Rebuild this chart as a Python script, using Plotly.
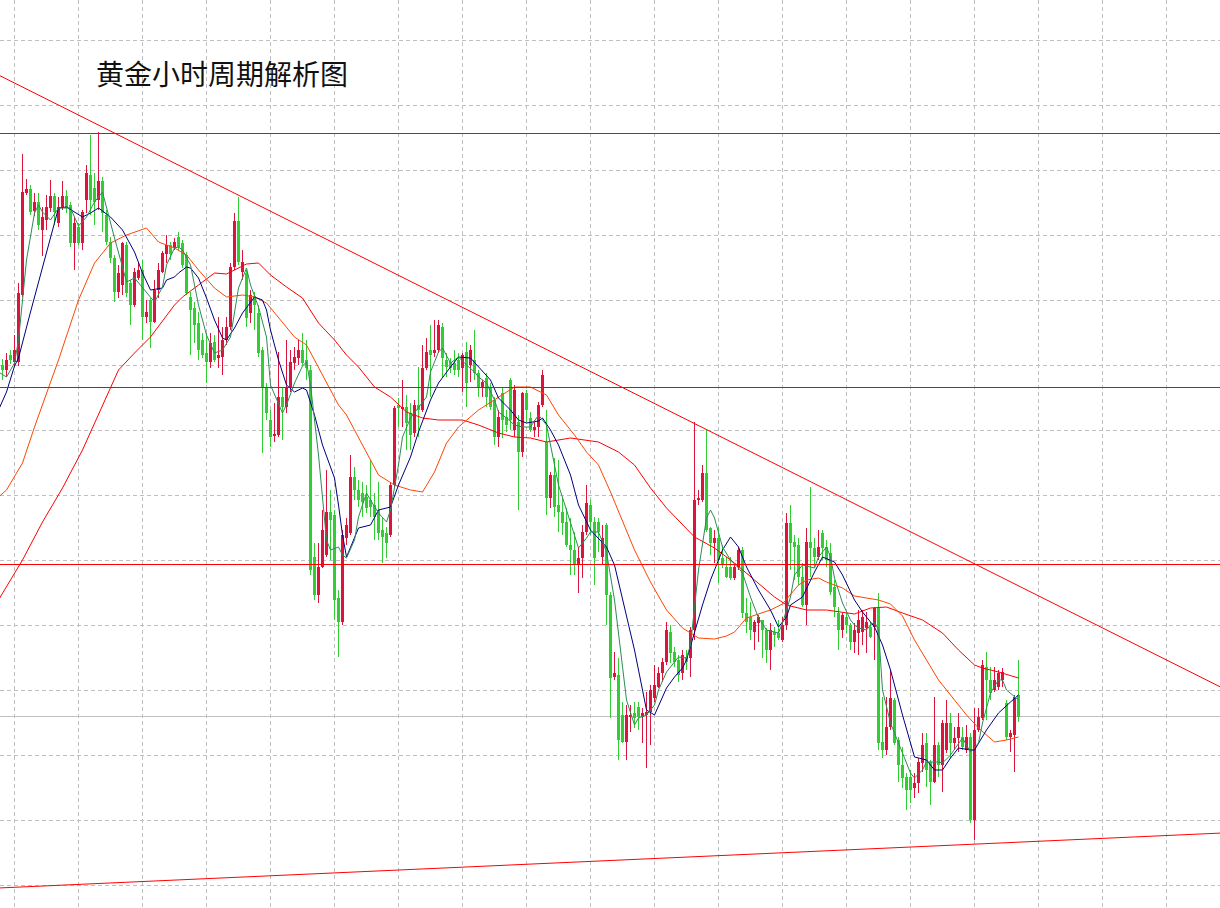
import plotly.graph_objects as go

title_text = "黄金小时周期解析图"

# hourly OHLC (oldest -> newest)
opens = [1635,1630,1645,1638,1638,1705,1807,1811,1789,1798,
 1770,1780,1792,1804,1777,1793,1804,1795,1757,1773,
 1757,1800,1825,1812,1800,1819,1785,1758,1742,1708,
 1715,1755,1717,1695,1722,1730,1683,1700,1678,1710,
 1728,1746,1755,1752,1763,1757,1745,1703,1692,1677,
 1660,1647,1638,1658,1642,1643,1660,1673,1733,1779,
 1728,1727,1687,1704,1687,1650,1612,1580,1564,1565,
 1603,1593,1612,1637,1642,1650,1640,1630,1443,1405,
 1433,1445,1488,1485,1402,1378,1462,1467,1523,1510,
 1507,1503,1500,1495,1490,1470,1467,1465,1515,1595,
 1591,1593,1587,1567,1595,1590,1632,1650,1647,1650,
 1673,1640,1638,1637,1640,1632,1648,1635,1640,1627,
 1613,1622,1613,1600,1563,1607,1583,1620,1570,1578,
 1548,1607,1582,1570,1573,1595,1558,1502,1525,1495,
 1488,1478,1455,1450,1435,1442,1468,1495,1478,1478,
 1443,1475,1405,1323,1325,1285,1258,1283,1287,1293,
 1283,1285,1288,1302,1313,1327,1338,1368,1348,1340,
 1327,1343,1342,1370,1500,1500,1527,1472,1457,1462,
 1442,1433,1433,1422,1433,1450,1387,1383,1368,1377,
 1380,1370,1350,1368,1367,1360,1375,1477,1458,1455,
 1423,1395,1458,1452,1443,1467,1453,1447,1413,1387,
 1370,1383,1375,1358,1367,1368,1372,1373,1373,1392,
 1258,1250,1273,1300,1260,1235,1223,1223,1212,1217,
 1237,1257,1238,1218,1255,1235,1250,1277,1257,1262,
 1263,1250,1263,1180,1270,1282,1333,1320,1310,1313,
 1320,1297,1263,1265,1305]

highs = [1641,1647,1650,1665,1717,1846,1821,1815,1807,1807,
 1793,1805,1820,1807,1803,1819,1810,1798,1783,1777,
 1790,1835,1865,1827,1868,1823,1790,1763,1745,1735,
 1758,1758,1720,1732,1738,1740,1700,1702,1720,1737,
 1749,1765,1758,1762,1768,1760,1748,1708,1698,1688,
 1667,1667,1667,1665,1683,1673,1683,1737,1787,1803,
 1750,1730,1710,1708,1695,1653,1617,1590,1597,1648,
 1613,1660,1650,1653,1660,1667,1660,1635,1457,1457,
 1490,1530,1510,1490,1410,1470,1482,1545,1533,1520,
 1518,1515,1540,1507,1518,1482,1473,1517,1594,1602,
 1620,1605,1597,1600,1633,1655,1662,1675,1680,1680,
 1677,1647,1642,1650,1647,1647,1658,1655,1670,1630,
 1620,1627,1617,1603,1590,1612,1590,1622,1615,1585,
 1608,1610,1588,1580,1598,1630,1590,1528,1542,1540,
 1503,1492,1482,1468,1453,1475,1515,1500,1483,1482,
 1475,1477,1408,1348,1342,1298,1295,1295,1298,1298,
 1292,1308,1315,1335,1333,1342,1378,1375,1353,1345,
 1350,1350,1373,1578,1510,1535,1570,1473,1470,1473,
 1455,1443,1443,1435,1453,1453,1402,1398,1380,1385,
 1380,1372,1377,1373,1380,1383,1487,1495,1465,1462,
 1437,1472,1513,1462,1470,1470,1460,1457,1420,1393,
 1387,1387,1377,1377,1390,1390,1388,1378,1393,1407,
 1303,1303,1330,1302,1263,1253,1227,1230,1227,1242,
 1267,1267,1240,1303,1258,1280,1300,1287,1273,1287,
 1273,1275,1267,1292,1292,1340,1348,1333,1333,1330,
 1332,1300,1270,1305,1340]

lows = [1620,1623,1636,1634,1634,1703,1805,1785,1784,1770,
 1744,1770,1788,1775,1773,1790,1787,1753,1730,1755,
 1750,1787,1785,1775,1790,1768,1755,1737,1698,1702,
 1705,1703,1675,1693,1720,1660,1677,1652,1677,1702,
 1727,1737,1740,1750,1750,1732,1705,1645,1657,1640,
 1642,1617,1632,1638,1632,1625,1655,1670,1730,1735,
 1720,1673,1677,1670,1643,1547,1580,1553,1558,1563,
 1560,1587,1608,1630,1635,1635,1620,1425,1400,1397,
 1432,1443,1440,1380,1343,1375,1455,1465,1500,1493,
 1483,1487,1483,1460,1460,1437,1442,1463,1513,1573,
 1573,1550,1550,1563,1563,1588,1630,1603,1643,1647,
 1623,1623,1627,1625,1623,1608,1593,1618,1620,1603,
 1603,1593,1590,1555,1553,1562,1568,1570,1563,1490,
 1543,1578,1568,1563,1563,1593,1485,1492,1483,1468,
 1465,1453,1425,1425,1407,1422,1465,1465,1415,1448,
 1435,1375,1282,1320,1240,1257,1240,1268,1272,1270,
 1257,1232,1255,1298,1312,1318,1335,1337,1333,1318,
 1320,1330,1323,1360,1495,1498,1468,1445,1437,1417,
 1432,1422,1420,1420,1430,1382,1367,1360,1350,1358,
 1342,1337,1330,1353,1360,1358,1370,1430,1420,1415,
 1393,1375,1423,1433,1440,1440,1433,1405,1383,1350,
 1362,1367,1350,1347,1345,1355,1347,1362,1340,1250,
 1242,1245,1270,1255,1218,1212,1190,1197,1202,1207,
 1228,1213,1195,1217,1223,1208,1247,1242,1250,1248,
 1250,1247,1177,1160,1268,1280,1280,1300,1308,1310,
 1313,1260,1248,1228,1278]

closes = [1630,1640,1640,1650,1707,1808,1811,1788,1798,1775,
 1783,1793,1804,1788,1793,1804,1792,1757,1777,1757,
 1788,1827,1800,1798,1819,1787,1758,1742,1708,1727,
 1757,1707,1695,1728,1730,1683,1688,1678,1710,1730,
 1747,1755,1746,1758,1753,1735,1707,1690,1675,1650,
 1645,1638,1657,1640,1645,1660,1673,1733,1779,1738,
 1738,1682,1705,1695,1647,1612,1587,1563,1566,1603,
 1593,1612,1638,1643,1650,1637,1632,1430,1405,1433,
 1470,1488,1480,1400,1378,1465,1475,1523,1510,1500,
 1498,1492,1493,1483,1467,1463,1457,1515,1592,1592,
 1593,1577,1565,1595,1590,1632,1648,1645,1650,1675,
 1642,1633,1632,1630,1630,1645,1617,1650,1627,1613,
 1618,1603,1593,1563,1583,1580,1575,1580,1610,1548,
 1607,1590,1570,1573,1595,1625,1502,1525,1493,1488,
 1477,1455,1450,1435,1442,1468,1497,1478,1442,1468,
 1462,1405,1322,1327,1260,1258,1285,1285,1282,1283,
 1287,1288,1310,1315,1327,1338,1370,1347,1338,1325,
 1345,1338,1370,1500,1502,1527,1470,1457,1462,1440,
 1435,1423,1422,1433,1450,1387,1378,1370,1378,1383,
 1370,1350,1370,1365,1362,1375,1477,1457,1453,1423,
 1395,1458,1452,1443,1453,1452,1440,1408,1393,1370,
 1385,1375,1358,1370,1380,1383,1378,1363,1392,1257,
 1250,1273,1302,1257,1235,1222,1210,1210,1217,1238,
 1255,1230,1218,1255,1235,1277,1277,1257,1262,1273,
 1253,1263,1180,1270,1283,1335,1320,1307,1320,1327,
 1328,1263,1267,1303,1283]

# moving averages (bar index, price)
ma_fast_bars = [-1,1,3,4,6,8,9,10,12,14,17,19,21,23,25,26,28,30,31,33,36,38,40,41,43,44,45,47,49,51,53,55,57,59,61,62,64,66,67,70,71,73,75,76,77,79,81,82,84,85,86,88,89,91,92,94,96,97,99,100,102,104,106,107,109,110,112,113,114,116,118,119,121,123,124,126,128,130,132,134,136,137,139,141,142,144,146,147,149,151,153,154,156,158,159,161,163,164,166,168,169,171,172,174,176,177,178,180,182,184,185,187,189,191,194,195,197,198,200,203,204,206,207,208,210,212,213,214,216,217,218,219,220,222,224,225,227,228,230,231,234,235,237,239,240,242,244,245,247,249,250,251,253,254]
ma_fast_vals = [1628,1623,1637,1660,1740,1787,1795,1788,1780,1792,1792,1774,1783,1798,1808,1792,1762,1733,1718,1722,1708,1698,1713,1735,1752,1753,1750,1735,1695,1665,1647,1650,1663,1712,1732,1715,1693,1663,1615,1587,1595,1617,1634,1638,1615,1545,1460,1450,1453,1445,1442,1460,1483,1507,1500,1487,1478,1490,1535,1563,1582,1592,1603,1628,1648,1652,1637,1640,1643,1635,1628,1623,1617,1600,1588,1582,1575,1573,1573,1585,1575,1555,1515,1490,1478,1452,1462,1468,1468,1448,1400,1365,1300,1275,1282,1285,1295,1310,1328,1338,1343,1342,1355,1430,1482,1490,1482,1453,1440,1432,1427,1403,1382,1370,1367,1377,1403,1425,1435,1432,1443,1453,1443,1422,1397,1380,1375,1372,1370,1375,1378,1370,1310,1277,1258,1247,1227,1222,1230,1238,1238,1237,1245,1257,1262,1248,1257,1277,1307,1320,1320,1310,1303,1300]

ma_mid_bars = [-1,1,5,8,14,19,23,27,31,36,39,43,46,49,53,56,60,63,66,69,73,76,79,82,84,86,90,94,98,102,105,108,111,114,119,124,128,132,136,139,143,146,149,152,155,158,162,166,170,174,178,181,183,186,189,192,195,197,199,201,204,206,210,213,216,219,222,225,228,231,234,238,241,244,248,251,254]
ma_mid_vals = [1503,1510,1537,1573,1640,1700,1737,1757,1765,1772,1758,1752,1745,1730,1712,1703,1705,1703,1697,1682,1663,1655,1632,1610,1595,1585,1555,1525,1515,1510,1508,1528,1557,1573,1590,1603,1613,1613,1605,1585,1565,1548,1535,1508,1478,1450,1418,1390,1372,1362,1361,1364,1368,1382,1386,1390,1396,1405,1415,1420,1422,1418,1412,1404,1402,1400,1396,1384,1360,1340,1320,1300,1285,1272,1258,1260,1263]

ma_slow_bars = [-1,5,10,15,20,22,29,33,37,43,45,49,53,56,59,61,64,67,71,75,79,83,86,89,93,97,101,105,109,115,119,124,128,132,136,142,149,154,158,162,166,170,173,178,183,188,193,196,201,206,211,213,217,221,225,230,235,239,243,245,249,254]
ma_slow_vals = [1400,1440,1478,1512,1550,1568,1630,1647,1663,1695,1703,1715,1727,1726,1732,1736,1737,1725,1713,1702,1677,1660,1645,1633,1613,1603,1588,1582,1580,1580,1575,1567,1563,1562,1558,1562,1558,1548,1535,1512,1492,1475,1463,1452,1437,1420,1403,1395,1390,1390,1387,1386,1392,1393,1387,1380,1367,1350,1335,1332,1328,1322]

ma_navy_bars = [-1,1,3,4,7,10,13,14,16,18,20,22,24,27,30,33,35,37,40,41,43,44,46,47,49,51,53,55,56,58,60,63,65,66,67,69,71,73,75,76,78,80,83,84,85,86,89,92,94,97,99,102,104,107,109,112,114,117,119,122,124,127,129,131,134,135,137,139,142,144,147,149,151,153,156,158,161,163,166,168,170,171,175,177,180,182,184,186,189,192,194,196,197,200,203,205,208,210,213,215,218,220,222,225,228,231,233,235,237,239,242,243,246,249,252,254]
ma_navy_vals = [1590,1608,1634,1642,1688,1732,1775,1792,1793,1788,1783,1787,1792,1783,1770,1748,1727,1710,1712,1720,1723,1727,1733,1732,1722,1702,1680,1662,1660,1672,1687,1703,1700,1690,1670,1640,1615,1608,1612,1610,1585,1555,1522,1495,1465,1443,1472,1475,1490,1493,1515,1543,1568,1600,1617,1633,1643,1642,1633,1620,1602,1590,1580,1577,1579,1582,1570,1555,1525,1495,1470,1462,1453,1435,1383,1350,1290,1285,1312,1323,1332,1340,1395,1420,1450,1463,1453,1433,1410,1390,1373,1383,1395,1403,1428,1443,1438,1425,1400,1388,1373,1355,1330,1285,1243,1240,1230,1230,1242,1252,1250,1250,1270,1287,1298,1305]

red_levels = [1866.5, 1612.5, 1435.5]
gray_levels = [1283.5]
upper_trend_bars = [-1, 305]
upper_trend_prices = [1925, 1312]
lower_trend_bars = [-1, 305]
lower_trend_prices = [1112, 1167]

UP = "#DC143C"
DOWN = "#32CD32"

fig = go.Figure()

bars = list(range(len(opens)))
for is_up, col in ((True, UP), (False, DOWN)):
    wx, wy, bx, bbase, bh = [], [], [], [], []
    for i in bars:
        o, h, l, c = opens[i], highs[i], lows[i], closes[i]
        if (c >= o) != is_up:
            continue
        wx += [i, i, None]
        wy += [l, h, None]
        bx.append(i)
        bbase.append(min(o, c))
        bh.append(max(abs(c - o), 1.5))
    fig.add_trace(go.Scatter(x=wx, y=wy, mode="lines", line=dict(color=col, width=1),
                             hoverinfo="skip", connectgaps=False))
    fig.add_trace(go.Bar(x=bx, y=bh, base=bbase, width=0.75, marker=dict(color=col, line=dict(width=0)),
                         hoverinfo="skip"))

for bx_, vals, col in ((ma_slow_bars, ma_slow_vals, "#FF0000"),
                       (ma_mid_bars, ma_mid_vals, "#FF4500"),
                       (ma_navy_bars, ma_navy_vals, "#000080"),
                       (ma_fast_bars, ma_fast_vals, "#2E8B57")):
    fig.add_trace(go.Scatter(x=bx_, y=vals, mode="lines", line=dict(color=col, width=1),
                             hoverinfo="skip"))

for tb, tp in ((upper_trend_bars, upper_trend_prices), (lower_trend_bars, lower_trend_prices)):
    fig.add_trace(go.Scatter(x=tb, y=tp, mode="lines", line=dict(color="#FF0000", width=1),
                             hoverinfo="skip"))

shapes = []
for lv in red_levels:
    shapes.append(dict(type="line", xref="paper", x0=0, x1=1, yref="y", y0=lv, y1=lv,
                       line=dict(color="#FF0000", width=1), layer="above"))
for lv in gray_levels:
    shapes.append(dict(type="line", xref="paper", x0=0, x1=1, yref="y", y0=lv, y1=lv,
                       line=dict(color="#C0C0C0", width=1), layer="below"))

grid = dict(showgrid=True, gridcolor="#C0C0C0", gridwidth=1, griddash="4px,3px",
            showticklabels=False, ticks="", zeroline=False, showline=False, fixedrange=True)

fig.update_layout(
    width=1220, height=908,
    margin=dict(l=0, r=0, t=0, b=0, pad=0),
    paper_bgcolor="white", plot_bgcolor="white",
    showlegend=False, hovermode=False, barmode="overlay", bargap=0,
    xaxis=dict(range=[-0.625, 304.375], tick0=3, dtick=16, **grid),
    yaxis=dict(range=[1092, 2000], tick0=1960, dtick=65, **grid),
    shapes=shapes,
    annotations=[dict(text=title_text, xref="paper", yref="paper", x=94/1220, y=1-73.5/908,
                      xanchor="left", yanchor="middle", showarrow=False,
                      font=dict(family="Noto Sans CJK SC", size=28, color="#111111"))],
)

fig.write_html("out.html")
